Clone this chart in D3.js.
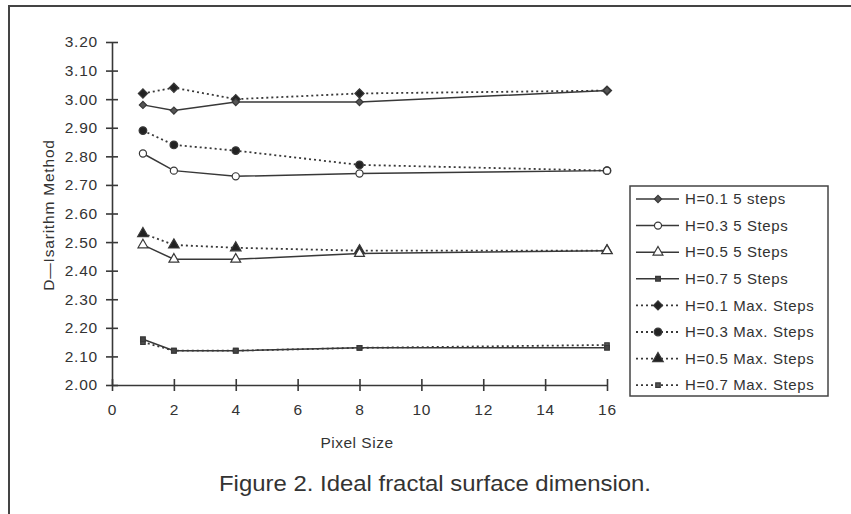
<!DOCTYPE html>
<html>
<head>
<meta charset="utf-8">
<script src="https://cdn.jsdelivr.net/npm/d3@7"></script>
<style>
  body { margin: 0; background: #fff; }
  text { font-family: Arial, "Liberation Sans", sans-serif; fill: #333; }
</style>
</head>
<body>
<div id="chart"></div>
<script>
// pixel sizes on the x axis
const pixelSizes = [1, 2, 4, 8, 16];

// five-step runs (solid lines)
const h01Five = [2.98, 2.96, 2.99, 2.99, 3.03];
const h03Five = [2.81, 2.75, 2.73, 2.74, 2.75];
const h05Five = [2.49, 2.44, 2.44, 2.46, 2.47];
const h07Five = [2.16, 2.12, 2.12, 2.13, 2.13];

// max-step runs (dotted lines)
const h01Max = [3.02, 3.04, 3.00, 3.02, 3.03];
const h03Max = [2.89, 2.84, 2.82, 2.77, 2.75];
const h05Max = [2.53, 2.49, 2.48, 2.47, 2.47];
const h07Max = [2.15, 2.12, 2.12, 2.13, 2.14];

const seriesNames = [
  "H=0.1 5 steps", "H=0.3 5 Steps", "H=0.5 5 Steps", "H=0.7 5 Steps",
  "H=0.1 Max. Steps", "H=0.3 Max. Steps", "H=0.5 Max. Steps", "H=0.7 Max. Steps"
];

const xTicks = [0, 2, 4, 6, 8, 10, 12, 14, 16];
const yTicks = [2.0, 2.1, 2.2, 2.3, 2.4, 2.5, 2.6, 2.7, 2.8, 2.9, 3.0, 3.1, 3.2];

const width = 851, height = 514;
const ink = "#383838";

const svg = d3.select("#chart").append("svg")
  .attr("width", width)
  .attr("height", height);

// scanned page frame
svg.append("path")
  .attr("d", "M9,514 L9,6 L851,6")
  .attr("fill", "none")
  .attr("stroke", "#444")
  .attr("stroke-width", 2);

const x = d3.scaleLinear().domain([0, 16]).range([112, 607]);
const y = d3.scaleLinear().domain([2.0, 3.2]).range([385, 42]);

// axes, ticks crossing the axis line
const xAxis = svg.append("g")
  .attr("transform", "translate(0,385)")
  .call(d3.axisBottom(x).tickValues(xTicks).tickSize(6).tickSizeOuter(0).tickPadding(13));
xAxis.selectAll(".tick line").attr("y1", -6);

const yAxis = svg.append("g")
  .attr("transform", "translate(112,0)")
  .call(d3.axisLeft(y).tickValues(yTicks).tickFormat(d3.format(".2f")).tickSize(6).tickSizeOuter(0).tickPadding(8));
yAxis.selectAll(".tick line").attr("x1", 6);

svg.selectAll(".domain, .tick line").attr("stroke", ink).attr("stroke-width", 1.6);
svg.selectAll(".tick text")
  .attr("fill", "#333")
  .style("font-size", "15.5px")
  .style("letter-spacing", "0.8px")
  .style("font-family", "Arial, 'Liberation Sans', sans-serif");

// axis titles
svg.append("text")
  .attr("transform", "translate(54,215) rotate(-90)")
  .attr("text-anchor", "middle")
  .style("font-size", "15.5px")
  .style("letter-spacing", "0.8px")
  .text("D\u2014Isarithm Method");

svg.append("text")
  .attr("x", 357).attr("y", 448)
  .attr("text-anchor", "middle")
  .style("font-size", "15.5px")
  .style("letter-spacing", "0.5px")
  .text("Pixel Size");

svg.append("text")
  .attr("x", 435).attr("y", 491)
  .attr("text-anchor", "middle")
  .attr("textLength", 432)
  .attr("lengthAdjust", "spacingAndGlyphs")
  .style("font-family", "'Liberation Sans Narrow', 'Arial Narrow', Arial, sans-serif")
  .style("font-size", "22px")
  .text("Figure 2. Ideal fractal surface dimension.");

// series table built from the arrays
const diamond = d3.symbolSquare; // drawn rotated 45deg
const markers = [
  { type: diamond, size: 26, rot: 45, fill: "#555" },
  { type: d3.symbolCircle, size: 40, rot: 0, fill: "#fff" },
  { type: d3.symbolTriangle, size: 42, rot: 0, fill: "#fff" },
  { type: d3.symbolSquare, size: 22, rot: 0, fill: "#444" },
  { type: diamond, size: 42, rot: 45, fill: "#222" },
  { type: d3.symbolCircle, size: 46, rot: 0, fill: "#222" },
  { type: d3.symbolTriangle, size: 48, rot: 0, fill: "#222" },
  { type: d3.symbolSquare, size: 20, rot: 0, fill: "#555" }
];
const values = [h01Five, h03Five, h05Five, h07Five, h01Max, h03Max, h05Max, h07Max];
const series = values.map((v, i) => ({
  name: seriesNames[i],
  dotted: i >= 4,
  marker: markers[i],
  points: pixelSizes.map((p, j) => ({ x: p, y: v[j] }))
}));

const line = d3.line().x(d => x(d.x)).y(d => y(d.y));

// dotted first so solid lines sit on top
const order = [4, 5, 6, 7, 0, 1, 2, 3].map(i => series[i]);

svg.selectAll(".series-line")
  .data(order)
  .enter()
  .append("path")
  .attr("class", "series-line")
  .attr("d", d => line(d.points))
  .attr("fill", "none")
  .attr("stroke", ink)
  .attr("stroke-width", d => d.dotted ? 1.8 : 1.5)
  .attr("stroke-dasharray", d => d.dotted ? "2,3" : null);

const symbolPath = m => d3.symbol().type(m.type).size(m.size)();

order.forEach(s => {
  svg.append("g").selectAll("path")
    .data(s.points)
    .enter()
    .append("path")
    .attr("transform", d => `translate(${x(d.x)},${y(d.y)}) rotate(${s.marker.rot})`)
    .attr("d", symbolPath(s.marker))
    .attr("fill", s.marker.fill)
    .attr("stroke", ink)
    .attr("stroke-width", 1.2);
});

// legend
const legend = svg.append("g");
legend.append("rect")
  .attr("x", 630).attr("y", 186)
  .attr("width", 198).attr("height", 210)
  .attr("fill", "#fff")
  .attr("stroke", "#444")
  .attr("stroke-width", 1.5);

const rows = legend.selectAll(".row")
  .data(series)
  .enter()
  .append("g")
  .attr("transform", (d, i) => `translate(0,${199 + i * 26.6})`);

rows.append("line")
  .attr("x1", 636).attr("x2", 679)
  .attr("y1", 0).attr("y2", 0)
  .attr("stroke", ink)
  .attr("stroke-width", d => d.dotted ? 1.8 : 1.5)
  .attr("stroke-dasharray", d => d.dotted ? "2,3" : null);

rows.append("path")
  .attr("transform", d => `translate(658,0) rotate(${d.marker.rot})`)
  .attr("d", d => symbolPath(d.marker))
  .attr("fill", d => d.marker.fill)
  .attr("stroke", ink)
  .attr("stroke-width", 1.2);

rows.append("text")
  .attr("x", 685)
  .attr("dy", "0.35em")
  .style("font-size", "15px")
  .style("letter-spacing", "0.6px")
  .text(d => d.name);
</script>
</body>
</html>
